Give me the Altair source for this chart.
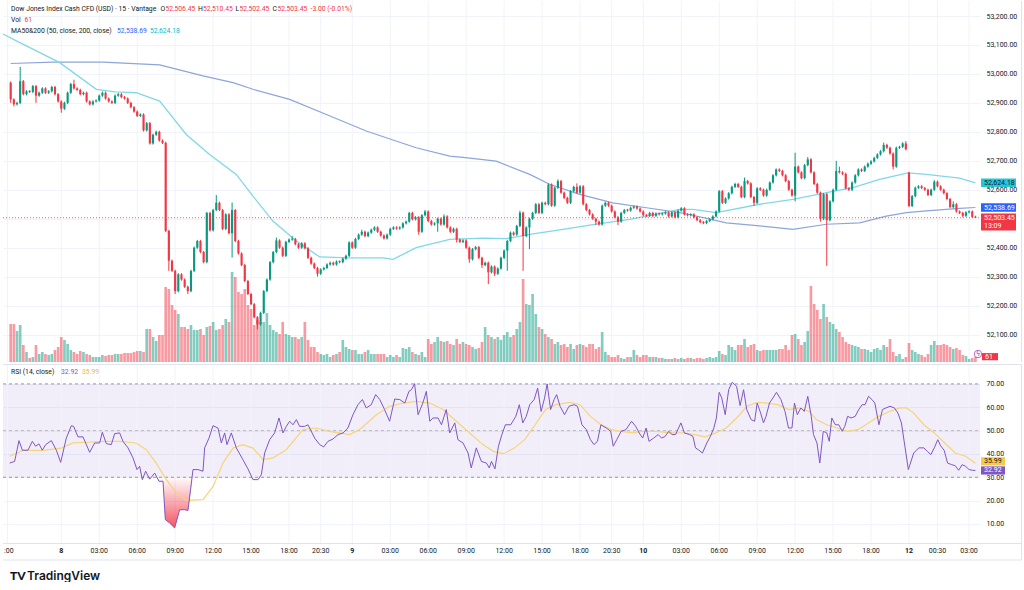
import altair as alt
import pandas as pd

# ------------------------------------------------------------------ data
CLOSES = [
    52912, 52895, 52900, 52975, 52930, 52940, 52938, 52958, 52925, 52935,
    52950, 52935, 52940, 52955, 52930, 52905, 52880, 52900, 52935, 52965,
    52950, 52945, 52930, 52935, 52905, 52895, 52905, 52908, 52925, 52935,
    52915, 52905, 52900, 52925, 52930, 52920, 52915, 52900, 52885, 52870,
    52855, 52860, 52805, 52830, 52760, 52790, 52800, 52770, 52762, 52458,
    52355, 52320, 52250, 52308, 52290, 52265, 52250, 52320, 52400, 52423,
    52385, 52350, 52520, 52460, 52530, 52555, 52530, 52465, 52515, 52450,
    52530, 52423, 52380, 52340, 52285, 52240, 52205, 52160, 52135, 52175,
    52250, 52290, 52350, 52385, 52425, 52400, 52372, 52420, 52428, 52430,
    52412, 52400, 52415, 52398, 52365, 52345, 52330, 52310, 52325, 52330,
    52342, 52348, 52342, 52352, 52350, 52362, 52372, 52418, 52400, 52430,
    52445, 52455, 52440, 52452, 52462, 52470, 52455, 52442, 52432, 52445,
    52465, 52470, 52466, 52470, 52484, 52490, 52520, 52498, 52505, 52455,
    52512, 52525, 52492, 52480, 52484, 52500, 52480, 52508, 52470, 52455,
    52465, 52428, 52420, 52425, 52400, 52360, 52395, 52402, 52365, 52340,
    52348, 52315, 52335, 52310, 52328, 52365, 52390, 52423, 52452, 52445,
    52475, 52521, 52440, 52470, 52500, 52520, 52550, 52520, 52555, 52550,
    52618, 52545, 52607, 52630, 52590, 52572, 52555, 52595, 52610, 52590,
    52612, 52550, 52530, 52515, 52500, 52490, 52480, 52545, 52555, 52545,
    52525, 52505, 52490, 52520, 52530, 52528, 52538, 52542, 52535, 52525,
    52512, 52510, 52520, 52510, 52518, 52515, 52518, 52522, 52508, 52522,
    52505, 52528, 52536, 52515, 52512, 52515, 52505, 52495, 52488, 52485,
    52492, 52498, 52508, 52525, 52595, 52555, 52570, 52588, 52610, 52620,
    52610, 52575, 52630, 52622, 52575, 52555, 52605, 52600, 52580, 52600,
    52625, 52650, 52670, 52665, 52650, 52630, 52600, 52580, 52680, 52660,
    52640, 52685, 52705, 52660, 52620, 52590, 52500, 52585, 52495, 52560,
    52600, 52665, 52660, 52655, 52605, 52600, 52625, 52650, 52670, 52665,
    52680, 52690, 52698, 52710, 52722, 52733, 52755, 52745, 52725, 52680,
    52745, 52748, 52760, 52740, 52544, 52578, 52607, 52612, 52606, 52600,
    52582, 52600, 52628, 52612, 52600, 52588, 52568, 52540, 52550, 52525,
    52520, 52510, 52522, 52525, 52506.45, 52503.45,
]
FIRST_OPEN = 52970
GAP_OPENS = {284: 52659}
HIGHS = {3: 53024, 20: 52980, 65: 52582, 70: 52556, 84: 52435, 89: 52440, 111: 52462,
         131: 52530, 137: 52515, 161: 52528, 173: 52636, 179: 52622, 212: 52540,
         232: 52642, 248: 52728, 252: 52713, 261: 52700, 262: 52680, 276: 52763,
         283: 52768, 284: 52662, 292: 52633, 298: 52560, 305: 52510.45}
LOWS = {0: 52900, 1: 52888, 8: 52900, 16: 52866, 50: 52320, 52: 52240, 56: 52240,
        70: 52366, 78: 52118, 97: 52300, 129: 52445, 135: 52455, 141: 52418, 145: 52348,
        149: 52330, 151: 52274, 153: 52302, 157: 52320, 162: 52320, 164: 52395,
        185: 52478, 192: 52478, 235: 52544, 248: 52560, 256: 52490, 257: 52495,
        258: 52337, 266: 52595, 279: 52670, 301: 52505, 305: 52502.45}
VOLUMES = [
    456, 456, 372, 444, 204, 120, 48, 60, 204, 96,
    120, 96, 84, 96, 144, 180, 300, 264, 216, 144,
    120, 96, 132, 120, 96, 84, 60, 60, 60, 84,
    72, 84, 84, 96, 96, 96, 108, 108, 108, 120,
    132, 132, 120, 396, 396, 300, 252, 324, 324, 900,
    876, 684, 624, 576, 420, 420, 396, 444, 384, 384,
    396, 324, 420, 432, 480, 384, 396, 444, 516, 480,
    1080, 1020, 840, 816, 876, 684, 636, 444, 504, 480,
    480, 588, 444, 384, 360, 336, 480, 336, 324, 300,
    300, 276, 300, 480, 264, 180, 180, 120, 96, 84,
    96, 60, 84, 96, 120, 264, 180, 156, 144, 144,
    96, 96, 120, 144, 96, 96, 96, 96, 96, 60,
    84, 60, 84, 60, 168, 156, 180, 120, 96, 84,
    120, 60, 276, 216, 240, 300, 252, 240, 252, 216,
    204, 276, 216, 240, 216, 204, 180, 156, 168, 240,
    420, 324, 300, 276, 300, 264, 324, 360, 300, 324,
    396, 480, 996, 696, 684, 816, 576, 420, 396, 336,
    300, 276, 216, 240, 204, 216, 180, 216, 156, 204,
    216, 204, 180, 216, 216, 156, 180, 360, 120, 84,
    60, 60, 84, 48, 36, 60, 60, 144, 84, 60,
    84, 84, 60, 60, 60, 48, 48, 36, 36, 36,
    48, 36, 48, 36, 48, 48, 36, 48, 48, 36,
    48, 60, 48, 60, 132, 96, 84, 204, 180, 144,
    204, 204, 276, 180, 204, 216, 144, 132, 144, 144,
    144, 144, 144, 156, 156, 204, 144, 324, 336, 276,
    204, 240, 372, 912, 696, 624, 516, 696, 540, 480,
    456, 396, 360, 300, 240, 216, 204, 192, 180, 156,
    156, 144, 120, 156, 168, 144, 204, 180, 276, 120,
    72, 96, 36, 60, 228, 144, 120, 96, 84, 60,
    96, 204, 252, 204, 204, 216, 204, 180, 156, 168,
    144, 84, 72, 36, 48, 61,
]
MA_FAST_X = [-2.43, 1.8, 15.5, 27.1, 33, 39.7, 47.1, 55.5, 62.9, 71.3, 76.6, 82.9, 90.3, 97.7,
             107.2, 117.7, 120.9, 128.2, 138.8, 149.3, 156.7, 164.1, 174.6, 185.1, 195.7, 201,
             211.5, 215.7, 223.1, 236.8, 247.3, 257.9, 266.3, 274.7, 283.7, 289.5, 300, 305]
MA_FAST_V = [53138, 53114, 53039, 52947, 52938, 52935, 52906, 52791, 52722, 52653, 52578, 52492,
             52423, 52368, 52365, 52365, 52360, 52400, 52429, 52433, 52431, 52446, 52463, 52481,
             52498, 52509, 52532, 52532, 52521, 52550, 52567, 52590, 52607, 52636, 52658, 52653,
             52640, 52624.18]
MA_SLOW_X = [0, 13.4, 29.2, 47.1, 60.8, 70.3, 76.6, 88.2, 99.8, 112.4, 128.2, 138.8, 143, 153.5,
             164.1, 170.4, 179.9, 190.4, 201, 211.5, 215.7, 226.2, 236.8, 247.3, 257.9, 268.4,
             276.8, 283.2, 289.5, 300, 305]
MA_SLOW_V = [53036, 53041, 53041, 53031, 52993, 52970, 52947, 52912, 52860, 52803, 52745, 52716,
             52712, 52699, 52653, 52619, 52584, 52555, 52538, 52521, 52512, 52486, 52475, 52463,
             52481, 52486, 52509, 52521, 52527, 52536, 52538.69]
RSI_X = [-0.33, 1.25, 2.62, 3.68, 5.47, 6.84, 7.89, 8.95, 10.0, 11.06, 12.85, 14.43, 15.8, 17.59,
         19.17, 19.9, 21.28, 22.86, 24.97, 26.55, 28.13, 28.97, 30.24, 31.82, 32.87, 34.45, 35.5,
         37.09, 38.67, 39.93, 40.77, 41.62, 42.67, 43.94, 45.52, 46.89, 48.15, 48.89, 50.26,
         51.84, 53.42, 55.0, 56.05, 57.64, 59.22, 60.8, 61.32, 62.7, 63.96, 65.54, 66.59, 67.65,
         68.38, 69.75, 71.33, 73.44, 75.02, 76.6, 78.18, 79.24, 80.29, 81.87, 83.45, 84.82,
         86.09, 87.14, 88.2, 89.25, 90.31, 91.36, 92.94, 94.0, 96.1, 97.68, 98.95, 100.3, 101.9,
         103.5, 105.1, 106.6, 108.2, 109.8, 111.2, 112.4, 114.0, 115.4, 116.7, 118.2, 119.8,
         121.4, 123.0, 124.6, 125.9, 126.7, 127.7, 128.8, 130.3, 131.4, 132.5, 133.5, 135.1,
         136.2, 137.7, 138.8, 140.4, 141.4, 143.0, 144.6, 145.6, 147.2, 148.8, 150.4, 151.3,
         152.0, 153.1, 154.2, 155.3, 156.4, 158.1, 159.7, 160.8, 161.9, 163.0, 164.1, 165.5,
         166.6, 167.7, 168.8, 169.6, 170.7, 171.8, 172.6, 173.7, 175.1, 176.5, 178.1, 179.2,
         180.6, 182.0, 183.3, 184.4, 185.5, 186.6, 188.3, 189.7, 190.5, 191.6, 193.0, 194.5,
         196.3, 197.6, 198.7, 199.8, 200.9, 201.8, 203.3, 204.7, 205.8, 206.9, 208.0, 209.1,
         210.2, 211.9, 213.0, 214.6, 215.7, 216.5, 217.4, 218.7, 220.1, 221.2, 222.3, 223.1,
         224.0, 224.8, 225.9, 227.0, 228.1, 229.5, 230.6, 231.7, 232.7, 234.1, 235.2, 236.0,
         237.1, 238.0, 238.8, 239.9, 241.0, 242.1, 243.5, 244.8, 245.9, 247.0, 247.8, 248.7,
         249.8, 250.9, 252.0, 253.1, 253.8, 254.9, 255.8, 256.9, 258.0, 258.8, 259.6, 260.7,
         261.8, 262.9, 263.7, 264.6, 265.7, 267.0, 268.1, 269.2, 270.1, 271.2, 272.3, 273.2,
         274.5, 275.6, 276.7, 278.0, 279.4, 280.5, 281.6, 282.7, 283.8, 285.5, 287.1, 288.7,
         289.8, 290.9, 292.0, 293.1, 294.0, 295.1, 296.2, 297.5, 298.6, 299.7, 300.8, 301.9,
         303.0, 304.1, 305.0]
RSI_V = [36.1, 36.8, 45.7, 41.6, 41.6, 45.4, 43.3, 44.3, 41.6, 44.0, 45.7, 41.6, 36.4, 46.8,
         52.1, 51.8, 47.3, 47.3, 40.7, 44.7, 44.7, 49.3, 44.4, 44.0, 48.7, 49.0, 45.4,
         42.6, 38.3, 33.3, 34.7, 29.0, 32.6, 29.2, 31.8, 28.3, 28.3, 11.9, 10.4,
         8.3, 16.1, 16.1, 15.8, 33.3, 33.3, 32.6, 42.6, 46.8, 52.1, 51.1, 44.7, 49.0,
         44.0, 49.0, 42.6, 37.5, 33.6, 29.0, 29.0, 31.1, 40.4, 46.1, 49.0, 55.4,
         49.0, 51.8, 54.0, 52.5, 54.7, 51.8, 51.8, 52.5, 46.8, 44.0, 43.0, 45.4, 46.4,
         48.3, 49.0, 51.1, 56.8, 61.1, 63.3, 59.7, 61.1, 65.4, 63.3, 59.0, 54.0,
         63.5, 63.3, 61.8, 66.8, 67.5, 70.1, 56.8, 61.8, 66.8, 54.0, 55.4, 55.4,
         52.5, 59.0, 49.0, 53.3, 46.1, 44.7, 40.4, 34.0, 42.6, 36.8, 36.1, 34.0,
         36.8, 33.6, 43.3, 48.3, 52.5, 52.5, 56.1, 61.1, 53.3, 56.1, 61.1, 63.3,
         68.2, 58.2, 64.0, 70.0, 59.0, 63.3, 65.4, 60.4, 56.8, 60.4, 61.1, 60.4,
         52.5, 50.4, 46.1, 44.0, 45.4, 52.5, 51.1, 49.7, 43.3, 46.1, 49.7, 50.4,
         54.0, 51.8, 49.0, 46.8, 51.1, 45.4, 46.8, 48.3, 46.8, 47.5, 49.7, 48.3,
         48.3, 53.3, 49.0, 48.3, 47.5, 42.6, 41.8, 40.4, 44.7, 47.5, 51.1, 55.4,
         66.4, 64.0, 56.8, 67.5, 70.7, 69.0, 60.7, 67.5, 59.0, 54.7, 54.0, 61.8,
         57.5, 53.3, 56.1, 61.8, 64.0, 66.4, 63.3, 58.2, 51.1, 51.1, 61.8, 56.8,
         59.7, 58.2, 64.7, 56.1, 48.3, 44.7, 36.1, 49.7, 49.0, 45.4, 55.4, 52.5,
         52.5, 49.7, 51.8, 56.1, 55.4, 56.1, 59.0, 61.1, 61.1, 64.7, 63.3, 61.8,
         52.5, 59.0, 59.7, 60.4, 59.7, 57.5, 53.3, 43.3, 33.3, 40.4, 42.6, 42.6,
         41.1, 39.7, 42.6, 46.1, 43.5, 41.6, 36.1, 35.4, 35.0, 33.0, 35.4, 34.7,
         33.3, 33.0, 32.92]
RSIMA_X = [-0.33, 3.89, 10.21, 16.01, 19.7, 23.9, 29.2, 34.45, 39.7, 42.9, 46.0, 49.2, 52.4,
           55.5, 60.8, 64.0, 67.1, 70.3, 73.4, 76.6, 79.8, 82.9, 87.1, 92.4, 96.6, 100.8,
           107.2, 110.3, 115.6, 119.8, 124.0, 128.2, 132.5, 136.7, 140.9, 145.1, 149.3, 152.6,
           155.9, 159.2, 162.5, 165.8, 169.1, 172.4, 176.8, 180.0, 183.3, 186.6, 189.9, 193.2,
           196.5, 199.8, 204.2, 208.6, 213.0, 216.3, 219.6, 222.9, 226.2, 229.5, 232.8, 236.0,
           239.3, 242.6, 245.9, 249.2, 252.5, 254.7, 258.0, 261.3, 264.6, 267.9, 271.2, 274.5,
           277.8, 281.1, 283.3, 285.5, 288.7, 292.0, 295.3, 298.6, 301.9, 305.0]
RSIMA_V = [39.0, 41.5, 41.5, 42.5, 44.7, 45.0, 45.4, 45.4, 44.7, 41.8, 36.1, 29.0, 23.3,
           20.1, 20.4, 26.1, 36.1, 42.5, 44.0, 42.5, 37.6, 38.3, 41.8, 50.4, 51.1, 49.7,
           48.3, 50.4, 56.8, 60.4, 61.8, 62.5, 61.8, 59.0, 54.0, 49.0, 44.0, 41.1,
           40.1, 42.5, 46.1, 52.5, 59.0, 61.1, 62.1, 61.1, 56.1, 52.5, 50.4, 49.7,
           49.0, 49.7, 49.7, 49.0, 49.0, 48.3, 47.3, 49.0, 51.1, 55.4, 60.4, 62.1,
           61.8, 61.1, 59.0, 59.7, 58.2, 54.7, 52.5, 51.1, 49.7, 50.4, 53.3, 56.1,
           58.2, 59.7, 59.7, 57.5, 52.5, 49.0, 44.7, 40.4, 39.0, 35.99]
TICK_IDX = [16, 28, 40, 52, 64, 76, 88, 98, 108, 120, 132, 144, 156, 168, 180, 190, 200,
            212, 224, 236, 248, 260, 272, 284, 293, 303]
TICK_LBL = ["8", "03:00", "06:00", "09:00", "12:00", "15:00", "18:00", "20:30", "9", "03:00",
            "06:00", "09:00", "12:00", "15:00", "18:00", "20:30", "10", "03:00", "06:00",
            "09:00", "12:00", "15:00", "18:00", "12", "00:30", "03:00"]
DAY_LABELS = ["8", "9", "10", "12"]
FIRST_TICK_IDX = -1
FIRST_TICK_LBL = ":00"
PRICE_TICKS = [52100, 52200, 52300, 52400, 52500, 52600, 52700, 52800, 52900, 53000, 53100, 53200]
HIDDEN_PRICE_LABEL = 52500  # sits under the last-price tag
RSI_TICKS = [10, 20, 30, 40, 50, 60, 70]

# ------------------------------------------------------------------ styling
FONT = "Roboto"
TXT = "#131722"
UP = "#089981"
DOWN = "#F23645"
CYAN = "#80D8E6"
BLUE = "#8CA5DA"
PURPLE = "#7E57C2"
YELLOW = "#F5D47A"
GRID = "#F0F3FA"
W = 977
H_PRICE = 361
H_RSI = 180
HF = 6.8  # header font size

xs = alt.Scale(domain=[-2.43, 306.45], nice=False, zero=False)
ps = alt.Scale(domain=[52005.3, 53251.8], nice=False, zero=False)
vs = alt.Scale(domain=[0, 4332], nice=False, zero=False)
rs = alt.Scale(domain=[1.43, 78.52], nice=False, zero=False)
dir_scale = alt.Scale(domain=["u", "d"], range=[UP, DOWN])

rows = []
for i, c in enumerate(CLOSES):
    o = FIRST_OPEN if i == 0 else GAP_OPENS.get(i, CLOSES[i - 1])
    hi = HIGHS.get(i, max(o, c) + 4)
    lo = LOWS.get(i, min(o, c) - 4)
    b0, b1 = min(o, c), max(o, c)
    if b1 - b0 < 3.5:
        b1 = b0 + 3.5
    rows.append(dict(i=i, o=o, c=c, hi=hi, lo=lo, b0=b0, b1=b1,
                     d="u" if c >= o else "d", v=VOLUMES[i], z=0))
candles = pd.DataFrame(rows)


def X(field="i"):
    return alt.X(f"{field}:Q", scale=xs, axis=None)


def txt(s, x, y, color=TXT, size=HF, weight="normal", align="left", font=FONT, dy=0):
    return alt.Chart(pd.DataFrame({"t": [s]})).mark_text(
        align=align, baseline="middle", fontSize=size, fontWeight=weight,
        font=font, color=color, dy=dy
    ).encode(text="t:N", x=alt.value(x), y=alt.value(y))


def tag(value, label, fill, tcolor, scale, up_u, down_u, x0, x1, second=None):
    df = pd.DataFrame({"v": [value], "top": [value + up_u], "bot": [value - down_u], "t": [label]})
    rect = alt.Chart(df).mark_rect(color=fill).encode(
        y=alt.Y("top:Q", scale=scale, axis=None), y2="bot:Q",
        x=alt.value(x0), x2=alt.value(x1))
    t = alt.Chart(df).mark_text(align="left", baseline="middle", fontSize=7, font=FONT,
                                color=tcolor).encode(
        y=alt.Y("v:Q", scale=scale, axis=None), x=alt.value(x0 + 3), text="t:N")
    layers = [rect, t]
    if second:
        layers.append(alt.Chart(df.assign(t2=[second])).mark_text(
            align="left", baseline="middle", fontSize=7, font=FONT, color=tcolor, dy=8.5
        ).encode(y=alt.Y("v:Q", scale=scale, axis=None), x=alt.value(x0 + 3), text="t2:N"))
    return layers


ticks_df = pd.DataFrame({"i": TICK_IDX + [FIRST_TICK_IDX], "lbl": TICK_LBL + [FIRST_TICK_LBL]})
vgrid_price = alt.Chart(ticks_df).mark_rule(color=GRID, strokeWidth=1).encode(
    x=X(), y=alt.value(0), y2=alt.value(H_PRICE))
vgrid_rsi = alt.Chart(ticks_df).mark_rule(color=GRID, strokeWidth=1).encode(
    x=X(), y=alt.value(0), y2=alt.value(H_RSI))

# ------------------------------------------------------------------ price pane
price_axis = alt.Axis(orient="right", values=PRICE_TICKS, grid=True,
                      labelExpr=f"datum.value == {HIDDEN_PRICE_LABEL} ? '' : format(datum.value, ',.2f')",
                      gridColor=GRID, domain=False, ticks=False, labelFontSize=7,
                      labelFont=FONT, labelColor=TXT, labelPadding=6, labelAlign="left",
                      title=None)

base = alt.Chart(candles)
vol = base.mark_rect(opacity=0.5).encode(
    x=alt.X("vx0:Q", scale=xs, axis=None), x2="vx1:Q",
    y=alt.Y("v:Q", scale=vs, axis=None), y2="z:Q",
    color=alt.Color("d:N", scale=dir_scale, legend=None)
).transform_calculate(vx0="datum.i - 0.42", vx1="datum.i + 0.42")
wicks = base.mark_rule(strokeWidth=1).encode(
    x=X(), y=alt.Y("lo:Q", scale=ps, axis=price_axis), y2="hi:Q",
    color=alt.Color("d:N", scale=dir_scale, legend=None))
bodies = base.mark_rect().encode(
    x=alt.X("bx0:Q", scale=xs, axis=None), x2="bx1:Q",
    y=alt.Y("b0:Q", scale=ps, axis=None), y2="b1:Q",
    color=alt.Color("d:N", scale=dir_scale, legend=None)
).transform_calculate(bx0="datum.i - 0.34", bx1="datum.i + 0.34")

ma_fast = alt.Chart(pd.DataFrame({"i": MA_FAST_X, "p": MA_FAST_V})).mark_line(
    color=CYAN, strokeWidth=1.3).encode(x=X(), y=alt.Y("p:Q", scale=ps, axis=None))
ma_slow = alt.Chart(pd.DataFrame({"i": MA_SLOW_X, "p": MA_SLOW_V})).mark_line(
    color=BLUE, strokeWidth=1.2).encode(x=X(), y=alt.Y("p:Q", scale=ps, axis=None))

last_close = CLOSES[-1]
cur_line = alt.Chart(pd.DataFrame({"p": [last_close]})).mark_rule(
    color=DOWN, strokeDash=[1, 2], strokeWidth=1, opacity=0.8).encode(
    y=alt.Y("p:Q", scale=ps, axis=None), x=alt.value(0), x2=alt.value(W))

icon = alt.Chart(pd.DataFrame({"a": [0]})).mark_point(
    shape="circle", size=55, filled=False, color="#9C27B0", strokeWidth=1
).encode(x=alt.value(975), y=alt.value(353))

price_layers = [
    vgrid_price, vol, ma_slow, ma_fast, wicks, bodies, cur_line,
    txt("Dow Jones Index Cash CFD (USD) · 15 · Vantage", 8, 8),
    txt("O", 157.5, 8), txt("52,506.45", 162.5, 8, DOWN),
    txt("H", 195, 8), txt("52,510.45", 200, 8, DOWN),
    txt("L", 232.5, 8), txt("52,502.45", 236.5, 8, DOWN),
    txt("C", 269.5, 8), txt("52,503.45", 274.5, 8, DOWN),
    txt("-3.00 (-0.01%)", 307.5, 8, DOWN),
    txt("Vol", 8, 19), txt("61", 21.5, 19, DOWN),
    txt("MA50&200 (50, close, 200, close)", 8, 30),
    txt("52,538.69", 114, 30, "#2962FF"), txt("52,624.18", 147, 30, "#00BCD4"),
    icon, txt("ϟ", 975, 353, "#9C27B0", size=7, align="center", font="DejaVu Sans"),
]
price_layers += tag(MA_FAST_V[-1], "52,624.18", "#26C6DA", TXT, ps, 14.5, 14.5, 978, 1013)
price_layers += tag(MA_SLOW_V[-1], "52,538.69", "#2962FF", "white", ps, 14.5, 14.5, 978, 1013)
price_layers += tag(last_close, "52,503.45", DOWN, "white", ps, 14.5, 44, 978, 1013, second="13:09")
price_layers += tag(VOLUMES[-1], "61", DOWN, "white", vs, 46, 40, 979, 995)
price_layers.append(alt.Chart(pd.DataFrame({"a": [0]})).mark_rule(color="#E0E3EB").encode(
    x=alt.value(1018.5), y=alt.value(0), y2=alt.value(H_PRICE)))

price = alt.layer(*price_layers).resolve_scale(y="independent").properties(
    width=W, height=H_PRICE)

# ------------------------------------------------------------------ RSI pane
rsi_axis = alt.Axis(orient="right", values=RSI_TICKS, format=".2f", grid=True, gridColor=GRID,
                    domain=False, ticks=False, labelFontSize=7, labelFont=FONT,
                    labelColor=TXT, labelPadding=6, labelAlign="left", title=None)
band = alt.Chart(pd.DataFrame({"top": [70], "bot": [30]})).mark_rect(
    color=PURPLE, opacity=0.1).encode(
    y=alt.Y("top:Q", scale=rs, axis=rsi_axis), y2="bot:Q", x=alt.value(0), x2=alt.value(W))
dashed = alt.Chart(pd.DataFrame({"r": [30, 70]})).mark_rule(
    color="#787B86", strokeDash=[3, 3], strokeWidth=1, opacity=0.75).encode(
    y=alt.Y("r:Q", scale=rs, axis=None), x=alt.value(0), x2=alt.value(W))
dashed_mid = alt.Chart(pd.DataFrame({"r": [50]})).mark_rule(
    color="#787B86", strokeDash=[3, 3], strokeWidth=1, opacity=0.45).encode(
    y=alt.Y("r:Q", scale=rs, axis=None), x=alt.value(0), x2=alt.value(W))

rsi_df = pd.DataFrame({"i": RSI_X, "r": RSI_V})
grad = alt.Gradient(gradient="linear", x1=0, x2=0, y1=0, y2=1, stops=[
    alt.GradientStop(color="rgba(242,54,69,0.02)", offset=0),
    alt.GradientStop(color="rgba(242,54,69,0.85)", offset=1)])
oversold = alt.Chart(rsi_df).mark_area(color=grad).encode(
    x=X(), y=alt.Y("lowr:Q", scale=rs, axis=None), y2="th:Q"
).transform_calculate(lowr="min(datum.r, 30)", th="30")
rsi_line = alt.Chart(rsi_df).mark_line(color=PURPLE, strokeWidth=1).encode(
    x=X(), y=alt.Y("r:Q", scale=rs, axis=None))
rsima_line = alt.Chart(pd.DataFrame({"i": RSIMA_X, "r": RSIMA_V})).mark_line(
    color=YELLOW, strokeWidth=1.2).encode(x=X(), y=alt.Y("r:Q", scale=rs, axis=None))

lbl_norm = alt.Chart(ticks_df[~ticks_df.lbl.isin(DAY_LABELS) & (ticks_df.i >= 0)]).mark_text(
    fontSize=7, font=FONT, color=TXT, baseline="middle").encode(
    x=X(), y=alt.value(187), text="lbl:N")
lbl_day = alt.Chart(ticks_df[ticks_df.lbl.isin(DAY_LABELS)]).mark_text(
    fontSize=7, font=FONT, color=TXT, baseline="middle", fontWeight="bold").encode(
    x=X(), y=alt.value(187), text="lbl:N")
lbl_first = alt.Chart(ticks_df[ticks_df.i < 0]).mark_text(
    fontSize=7, font=FONT, color=TXT, baseline="middle", align="left", dx=-3.5).encode(
    x=X(), y=alt.value(187), text="lbl:N")

lines_rsi = [
    alt.Chart(pd.DataFrame({"a": [0]})).mark_rule(color="#E0E3EB").encode(
        x=alt.value(0), x2=alt.value(1018.5), y=alt.value(0.5)),
    alt.Chart(pd.DataFrame({"a": [0]})).mark_rule(color="#E0E3EB").encode(
        x=alt.value(0), x2=alt.value(1018.5), y=alt.value(H_RSI - 0.5)),
    alt.Chart(pd.DataFrame({"a": [0]})).mark_rule(color="#E0E3EB").encode(
        x=alt.value(0), x2=alt.value(1018.5), y=alt.value(196)),
    alt.Chart(pd.DataFrame({"a": [0]})).mark_rule(color="#E0E3EB").encode(
        x=alt.value(1018.5), y=alt.value(0), y2=alt.value(196)),
]

rsi_layers = [band, vgrid_rsi, dashed, dashed_mid, oversold, rsima_line, rsi_line,
              lbl_norm, lbl_day, lbl_first,
              txt("RSI (14, close)", 8, 8.3), txt("32.92", 58, 8.3, PURPLE),
              txt("35.99", 79, 8.3, "#E9B949"),
              txt("TV", 7, 212, TXT, size=12, weight=900, font="Lato"),
              txt("TradingView", 24, 212, TXT, size=12, weight=600, font="Inter")]
rsi_layers += tag(36.85, "35.99", "#F7C94B", TXT, rs, 1.75, 1.75, 978, 1002)
rsi_layers += tag(RSI_V[-1], "32.92", PURPLE, "white", rs, 1.75, 1.75, 978, 1002)
rsi_layers += lines_rsi

rsi = alt.layer(*rsi_layers).resolve_scale(y="independent").properties(width=W, height=H_RSI)

chart = alt.vconcat(price, rsi, spacing=0).properties(
    padding={"left": 0, "top": 0, "right": 0, "bottom": 0}, background="white"
).configure_view(strokeWidth=0)

chart.save("out.html", embed_options={"renderer": "svg", "actions": False})
